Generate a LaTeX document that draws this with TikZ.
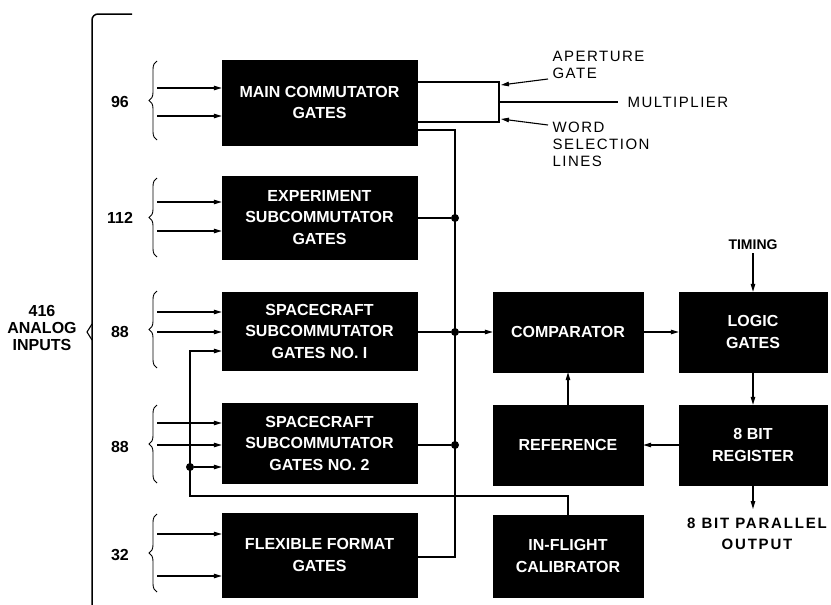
\documentclass[tikz,border=0pt]{standalone}
\usepackage{fontspec}
\setmainfont{Liberation Sans}
\newfontfamily\spcfont[LetterSpace=10]{Liberation Sans}
\newfontfamily\outfont[LetterSpace=12]{Liberation Sans}
\usetikzlibrary{arrows.meta,decorations.pathreplacing}
\begin{document}
\begin{tikzpicture}[x=1pt,y=-1pt,
  blk/.style={fill=black,draw=black,text=white,font=\fontsize{16}{21.5}\selectfont\bfseries,
    align=center,inner sep=0pt,minimum width=195pt},
  rblk/.style={blk,minimum width=150pt,minimum height=80pt},
  ln/.style={line width=1.1pt},
  arr/.style={ln,-{Triangle[length=8pt,width=4.5pt]}},
  jdot/.style={circle,fill=black,inner sep=0pt,minimum size=8pt},
  brc/.style={line width=0.9pt,decorate,decoration={brace,amplitude=8pt}},
  cnt/.style={font=\fontsize{16}{17}\selectfont\bfseries,align=center},
  side/.style={font=\fontsize{15}{17}\selectfont\spcfont,align=left,anchor=west},
  outl/.style={font=\fontsize{15}{21}\selectfont\outfont\bfseries,align=center}]
\useasboundingbox (0,0) rectangle (831,605);
\fill[white] (0,0) rectangle (831,605);

% gate blocks
\node[blk,minimum height=85pt] (main) at (319.5,102.5) {MAIN COMMUTATOR\\GATES};
\node[blk,minimum height=83pt] (exp) at (319.5,217.5) {EXPERIMENT\\SUBCOMMUTATOR\\GATES};
\node[blk,minimum height=78pt] (sc1) at (319.5,331) {SPACECRAFT\\SUBCOMMUTATOR\\GATES NO. I};
\node[blk,minimum height=80pt] (sc2) at (319.5,443) {SPACECRAFT\\SUBCOMMUTATOR\\GATES NO. 2};
\node[blk,minimum height=84pt] (flex) at (319.5,555) {FLEXIBLE FORMAT\\GATES};

% right blocks
\node[rblk] (comp) at (568,332) {COMPARATOR};
\node[rblk,minimum width=148pt] (logic) at (753,332) {LOGIC\\GATES};
\node[rblk] (ref) at (568,445) {REFERENCE};
\node[rblk,minimum width=148pt] (reg) at (753,445) {8 BIT\\REGISTER};
\node[rblk,minimum height=82pt] (cal) at (568,556) {IN-FLIGHT\\CALIBRATOR};

% big bracket and label
\draw[line width=1.5pt,rounded corners=6pt] (132,14) -- (92,14) -- (92,605);
\draw[line width=1.1pt] (92,324) -- (87,332) -- (92,340);
\node[cnt] (total) at (42,328) {416\\ANALOG\\INPUTS};

% counts and braces
\node[cnt] (n96) at (120,102) {96};
\node[cnt] (n112) at (120,218) {112};
\node[cnt] (n88a) at (120,332) {88};
\node[cnt] (n88b) at (120,447) {88};
\node[cnt] (n32) at (120,555) {32};
\draw[brc] (157,140) -- (157,61);
\draw[brc] (157,257) -- (157,178);
\draw[brc] (157,368) -- (157,291);
\draw[brc] (157,483) -- (157,405);
\draw[brc] (157,592) -- (157,514);

% input arrows
\foreach \yy in {88,116} \draw[arr] (157,\yy) -- (main.west |- 0,\yy);
\foreach \yy in {202,231} \draw[arr] (157,\yy) -- (exp.west |- 0,\yy);
\foreach \yy in {312,332} \draw[arr] (157,\yy) -- (sc1.west |- 0,\yy);
\foreach \yy in {423,445} \draw[arr] (157,\yy) -- (sc2.west |- 0,\yy);
\foreach \yy in {534,576} \draw[arr] (157,\yy) -- (flex.west |- 0,\yy);

% main commutator control lines
\coordinate (jt) at (499,82);
\coordinate (jb) at (499,122);
\coordinate (jm) at (499,102);
\draw[ln] (main.east |- jt) -- (jt) -- (jb) -- (main.east |- jb);
\coordinate (mulend) at (618,102);
\draw[ln] (jm) -- (mulend);
\node[side] (mul) at (624,102) {MULTIPLIER};
\node[side] (ap) at (549,65) {APERTURE\\GATE};
\node[side] (ws) at (549,144) {WORD\\SELECTION\\LINES};
\coordinate (apst) at (548,79);
\coordinate (wsst) at (548,125);
\draw[arr] (apst) -- (501,85);
\draw[arr] (wsst) -- (501,119);

% bus
\coordinate (bt) at (455,130);
\coordinate (bb) at (455,557);
\draw[ln] (main.east |- bt) -- (bt) -- (bb) -- (flex.east |- bb);
\node[jdot] (d1) at (455,218) {};
\node[jdot] (d2) at (455,332) {};
\node[jdot] (d3) at (455,445) {};
\draw[ln] (exp.east |- d1) -- (d1);
\draw[ln] (sc1.east |- d2) -- (d2);
\draw[ln] (sc2.east |- d3) -- (d3);
\draw[arr] (d2) -- (comp.west);

% calibrator feedback
\coordinate (fbc) at (190,496);
\node[jdot] (d4) at (190,467) {};
\draw[arr] (cal.north) |- (fbc) |- (sc1.west |- 0,351);
\draw[arr] (d4) -- (sc2.west |- d4);

% right side flow
\node[font=\fontsize{14}{16}\selectfont\bfseries] (tim) at (753,245) {TIMING};
\draw[arr] (tim.south) -- (logic.north);
\draw[arr] (comp.east) -- (logic.west);
\draw[arr] (logic.south) -- (reg.north);
\draw[arr] (reg.west) -- (ref.east);
\draw[arr] (ref.north) -- (comp.south);
\node[outl] (out) at (757,534) {8 BIT PARALLEL\\OUTPUT};
\coordinate (oe) at (753,509);
\draw[arr] (reg.south) -- (oe);
\end{tikzpicture}
\end{document}
